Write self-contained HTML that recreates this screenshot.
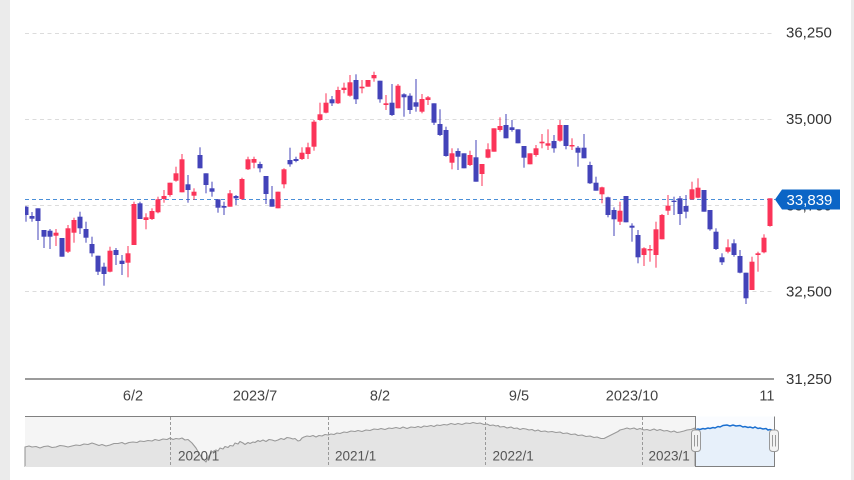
<!DOCTYPE html>
<html><head><meta charset="utf-8">
<style>
html,body{margin:0;padding:0;background:#fff;}
body{width:854px;height:480px;overflow:hidden;position:relative;font-family:"Liberation Sans",Arial,sans-serif;}
svg{position:absolute;left:0;top:0;}
</style></head>
<body>
<svg width="854" height="480" viewBox="0 0 854 480" xmlns="http://www.w3.org/2000/svg">
<defs>
<clipPath id="pc"><rect x="25" y="0" width="748" height="379"/></clipPath>
<clipPath id="xc"><rect x="25" y="380" width="749" height="30"/></clipPath>
</defs>
<rect x="0" y="0" width="10" height="480" fill="#ebebeb"/>
<rect x="851" y="0" width="3" height="480" fill="#ebebeb"/>
<g stroke="#dcdcdc" stroke-width="1" stroke-dasharray="4,3.5">
<line x1="25" y1="33.5" x2="772" y2="33.5"/>
<line x1="25" y1="119.5" x2="772" y2="119.5"/>
<line x1="25" y1="205.5" x2="772" y2="205.5"/>
<line x1="25" y1="291.5" x2="772" y2="291.5"/>
</g>
<line x1="25" y1="379" x2="774" y2="379" stroke="#7a7a7a" stroke-width="1.5"/>
<line x1="25" y1="199.5" x2="775" y2="199.5" stroke="#4a8fd8" stroke-width="1" stroke-dasharray="4,3"/>
<g clip-path="url(#pc)">
<g fill="#4343b9">
<rect x="25.5" y="206" width="1" height="15.7"/><rect x="23.5" y="206.7" width="5" height="8.3"/>
<rect x="31.5" y="212" width="1" height="9.7"/><rect x="29.5" y="216" width="5" height="2.7"/>
<rect x="37.5" y="208.3" width="1" height="31.7"/><rect x="35.5" y="208.3" width="5" height="12.7"/>
<rect x="43.5" y="230" width="1" height="18"/><rect x="41.5" y="230" width="5" height="6.7"/>
<rect x="49.5" y="229" width="1" height="20"/><rect x="47.5" y="230.7" width="5" height="6"/>
<rect x="61.5" y="238" width="1" height="18.7"/><rect x="59.5" y="238" width="5" height="18.7"/>
<rect x="79.5" y="211.7" width="1" height="22.3"/><rect x="77.5" y="216.7" width="5" height="11.6"/>
<rect x="85.5" y="221.7" width="1" height="21"/><rect x="83.5" y="229" width="5" height="8.7"/>
<rect x="91.5" y="236.7" width="1" height="20"/><rect x="89.5" y="244" width="5" height="9.3"/>
<rect x="97.5" y="255.7" width="1" height="19.3"/><rect x="95.5" y="255.7" width="5" height="16"/>
<rect x="103.5" y="262.7" width="1" height="23"/><rect x="101.5" y="266.7" width="5" height="7.3"/>
<rect x="115.5" y="248" width="1" height="17"/><rect x="113.5" y="250" width="5" height="5"/>
<rect x="121.5" y="255" width="1" height="20"/><rect x="119.5" y="260.7" width="5" height="3.3"/>
<rect x="139.5" y="201.7" width="1" height="17.3"/><rect x="137.5" y="203.3" width="5" height="15.7"/>
<rect x="187.5" y="175" width="1" height="27.7"/><rect x="185.5" y="184.3" width="5" height="5.7"/>
<rect x="199.5" y="147.3" width="1" height="21"/><rect x="197.5" y="155" width="5" height="13.3"/>
<rect x="205.5" y="173.3" width="1" height="20"/><rect x="203.5" y="173.3" width="5" height="11.7"/>
<rect x="211.5" y="181.7" width="1" height="15"/><rect x="209.5" y="188.3" width="5" height="3.4"/>
<rect x="217.5" y="199.3" width="1" height="13.4"/><rect x="215.5" y="199.3" width="5" height="8.4"/>
<rect x="223.5" y="201.7" width="1" height="13.3"/><rect x="221.5" y="206" width="5" height="1.7"/>
<rect x="235.5" y="195" width="1" height="10"/><rect x="233.5" y="196" width="5" height="2.3"/>
<rect x="259.5" y="161.7" width="1" height="10.6"/><rect x="257.5" y="164" width="5" height="4.3"/>
<rect x="265.5" y="176" width="1" height="28"/><rect x="263.5" y="176" width="5" height="18"/>
<rect x="271.5" y="186" width="1" height="20.7"/><rect x="269.5" y="199.3" width="5" height="7.4"/>
<rect x="289.5" y="147.7" width="1" height="19"/><rect x="287.5" y="160" width="5" height="4.3"/>
<rect x="295.5" y="156.7" width="1" height="5.6"/><rect x="293.5" y="159" width="5" height="2"/>
<rect x="331.5" y="96" width="1" height="10"/><rect x="329.5" y="99.3" width="5" height="4"/>
<rect x="355.5" y="74.3" width="1" height="29.7"/><rect x="353.5" y="80" width="5" height="19.3"/>
<rect x="379.5" y="80.7" width="1" height="22"/><rect x="377.5" y="80.7" width="5" height="18.6"/>
<rect x="391.5" y="84" width="1" height="32"/><rect x="389.5" y="102.7" width="5" height="12.3"/>
<rect x="403.5" y="93.3" width="1" height="23.4"/><rect x="401.5" y="94.3" width="5" height="3"/>
<rect x="409.5" y="93.3" width="1" height="20.7"/><rect x="407.5" y="95.7" width="5" height="14.3"/>
<rect x="415.5" y="79" width="1" height="32.7"/><rect x="413.5" y="102.3" width="5" height="4.4"/>
<rect x="433.5" y="103.3" width="1" height="21.7"/><rect x="431.5" y="103.3" width="5" height="19.4"/>
<rect x="439.5" y="109.3" width="1" height="26.7"/><rect x="437.5" y="124" width="5" height="11"/>
<rect x="445.5" y="126.7" width="1" height="30"/><rect x="443.5" y="130" width="5" height="26"/>
<rect x="457.5" y="148.3" width="1" height="21.7"/><rect x="455.5" y="151" width="5" height="5.7"/>
<rect x="463.5" y="153.3" width="1" height="15"/><rect x="461.5" y="153.3" width="5" height="15"/>
<rect x="475.5" y="140" width="1" height="41.7"/><rect x="473.5" y="157.3" width="5" height="24.4"/>
<rect x="505.5" y="114" width="1" height="24.3"/><rect x="503.5" y="125" width="5" height="13.3"/>
<rect x="511.5" y="120" width="1" height="11.7"/><rect x="509.5" y="127.3" width="5" height="2.7"/>
<rect x="517.5" y="129.3" width="1" height="14"/><rect x="515.5" y="129.3" width="5" height="14"/>
<rect x="523.5" y="146" width="1" height="21.7"/><rect x="521.5" y="146" width="5" height="11.7"/>
<rect x="553.5" y="135" width="1" height="17.7"/><rect x="551.5" y="141" width="5" height="7.3"/>
<rect x="565.5" y="125" width="1" height="24.3"/><rect x="563.5" y="125" width="5" height="21"/>
<rect x="577.5" y="146" width="1" height="20.7"/><rect x="575.5" y="147.7" width="5" height="5"/>
<rect x="583.5" y="134" width="1" height="24.3"/><rect x="581.5" y="147.7" width="5" height="10.6"/>
<rect x="589.5" y="161.7" width="1" height="22.3"/><rect x="587.5" y="165" width="5" height="18.3"/>
<rect x="595.5" y="176.7" width="1" height="14"/><rect x="593.5" y="182.7" width="5" height="8"/>
<rect x="607.5" y="196.7" width="1" height="20.6"/><rect x="605.5" y="197.3" width="5" height="17.7"/>
<rect x="613.5" y="207.3" width="1" height="28.7"/><rect x="611.5" y="210" width="5" height="9.3"/>
<rect x="625.5" y="196" width="1" height="26.3"/><rect x="623.5" y="196" width="5" height="26.3"/>
<rect x="631.5" y="223.3" width="1" height="18.4"/><rect x="629.5" y="225.7" width="5" height="2"/>
<rect x="637.5" y="230" width="1" height="33.3"/><rect x="635.5" y="235" width="5" height="22.3"/>
<rect x="673.5" y="196.7" width="1" height="18.3"/><rect x="671.5" y="200.7" width="5" height="1.3"/>
<rect x="679.5" y="196" width="1" height="29"/><rect x="677.5" y="198.3" width="5" height="15.7"/>
<rect x="685.5" y="195" width="1" height="23.3"/><rect x="683.5" y="206" width="5" height="5.7"/>
<rect x="703.5" y="190" width="1" height="21.7"/><rect x="701.5" y="190" width="5" height="21.7"/>
<rect x="709.5" y="210" width="1" height="20.7"/><rect x="707.5" y="210" width="5" height="19.3"/>
<rect x="715.5" y="228.3" width="1" height="21.7"/><rect x="713.5" y="231.7" width="5" height="17.3"/>
<rect x="721.5" y="253.3" width="1" height="11.7"/><rect x="719.5" y="257.3" width="5" height="5"/>
<rect x="733.5" y="239.3" width="1" height="17.4"/><rect x="731.5" y="243.3" width="5" height="11.7"/>
<rect x="739.5" y="250" width="1" height="23.3"/><rect x="737.5" y="256" width="5" height="16.7"/>
<rect x="745.5" y="272.7" width="1" height="31.3"/><rect x="743.5" y="272.7" width="5" height="25.6"/>
</g>
<g fill="#fb3459">
<rect x="55.5" y="229" width="1" height="17"/><rect x="53.5" y="232.7" width="5" height="3"/>
<rect x="67.5" y="225" width="1" height="28"/><rect x="65.5" y="228.3" width="5" height="23.4"/>
<rect x="73.5" y="217.7" width="1" height="25"/><rect x="71.5" y="220" width="5" height="12.7"/>
<rect x="109.5" y="246.7" width="1" height="25.6"/><rect x="107.5" y="250.7" width="5" height="21"/>
<rect x="127.5" y="246" width="1" height="31.3"/><rect x="125.5" y="253.3" width="5" height="9.4"/>
<rect x="133.5" y="201.7" width="1" height="43.3"/><rect x="131.5" y="204" width="5" height="41"/>
<rect x="145.5" y="213.3" width="1" height="16"/><rect x="143.5" y="217.3" width="5" height="2.7"/>
<rect x="151.5" y="208.3" width="1" height="11.7"/><rect x="149.5" y="211" width="5" height="8"/>
<rect x="157.5" y="196.7" width="1" height="16.6"/><rect x="155.5" y="199.3" width="5" height="13"/>
<rect x="163.5" y="190" width="1" height="12.7"/><rect x="161.5" y="196" width="5" height="3"/>
<rect x="169.5" y="182.7" width="1" height="14"/><rect x="167.5" y="182.7" width="5" height="12.3"/>
<rect x="175.5" y="166.7" width="1" height="15"/><rect x="173.5" y="173.3" width="5" height="7.4"/>
<rect x="181.5" y="154" width="1" height="38.3"/><rect x="179.5" y="159.3" width="5" height="33"/>
<rect x="193.5" y="188.3" width="1" height="11.7"/><rect x="191.5" y="191.7" width="5" height="4"/>
<rect x="229.5" y="190" width="1" height="16.7"/><rect x="227.5" y="193.3" width="5" height="13.4"/>
<rect x="241.5" y="177.7" width="1" height="22.3"/><rect x="239.5" y="179" width="5" height="20"/>
<rect x="247.5" y="156.7" width="1" height="13.3"/><rect x="245.5" y="159.3" width="5" height="10"/>
<rect x="253.5" y="156.7" width="1" height="11.6"/><rect x="251.5" y="159" width="5" height="3.7"/>
<rect x="277.5" y="191.7" width="1" height="16.6"/><rect x="275.5" y="191.7" width="5" height="16.6"/>
<rect x="283.5" y="168.3" width="1" height="20"/><rect x="281.5" y="169.3" width="5" height="15"/>
<rect x="301.5" y="147.3" width="1" height="12.7"/><rect x="299.5" y="152.7" width="5" height="6.3"/>
<rect x="307.5" y="142.7" width="1" height="16.3"/><rect x="305.5" y="147.3" width="5" height="6.7"/>
<rect x="313.5" y="120" width="1" height="30.7"/><rect x="311.5" y="121.7" width="5" height="25"/>
<rect x="319.5" y="102.7" width="1" height="18"/><rect x="317.5" y="114.3" width="5" height="5.7"/>
<rect x="325.5" y="93.3" width="1" height="20"/><rect x="323.5" y="102.7" width="5" height="10"/>
<rect x="337.5" y="86.7" width="1" height="17.3"/><rect x="335.5" y="90" width="5" height="13.3"/>
<rect x="343.5" y="82.7" width="1" height="10.6"/><rect x="341.5" y="87.7" width="5" height="2.3"/>
<rect x="349.5" y="75" width="1" height="21.7"/><rect x="347.5" y="82.3" width="5" height="13.4"/>
<rect x="361.5" y="80" width="1" height="13.3"/><rect x="359.5" y="86.7" width="5" height="1.6"/>
<rect x="367.5" y="80" width="1" height="6.7"/><rect x="365.5" y="80" width="5" height="6.7"/>
<rect x="373.5" y="71.7" width="1" height="10"/><rect x="371.5" y="75" width="5" height="3.3"/>
<rect x="385.5" y="95" width="1" height="15"/><rect x="383.5" y="103.3" width="5" height="1.7"/>
<rect x="397.5" y="84" width="1" height="24.3"/><rect x="395.5" y="85.7" width="5" height="22.6"/>
<rect x="421.5" y="94" width="1" height="19.3"/><rect x="419.5" y="99" width="5" height="12.7"/>
<rect x="427.5" y="96" width="1" height="9"/><rect x="425.5" y="97.3" width="5" height="2.7"/>
<rect x="451.5" y="148.3" width="1" height="21"/><rect x="449.5" y="153.3" width="5" height="9.4"/>
<rect x="469.5" y="150.7" width="1" height="15.3"/><rect x="467.5" y="155" width="5" height="10"/>
<rect x="481.5" y="164" width="1" height="22"/><rect x="479.5" y="164" width="5" height="10"/>
<rect x="487.5" y="143.3" width="1" height="15"/><rect x="485.5" y="149.3" width="5" height="8.4"/>
<rect x="493.5" y="128.3" width="1" height="23.4"/><rect x="491.5" y="128.3" width="5" height="23.4"/>
<rect x="499.5" y="117.3" width="1" height="14.4"/><rect x="497.5" y="126" width="5" height="4"/>
<rect x="529.5" y="153.3" width="1" height="11"/><rect x="527.5" y="153.3" width="5" height="11"/>
<rect x="535.5" y="145" width="1" height="11.7"/><rect x="533.5" y="148.3" width="5" height="6.7"/>
<rect x="541.5" y="134" width="1" height="14.3"/><rect x="539.5" y="141.7" width="5" height="1.6"/>
<rect x="547.5" y="129.3" width="1" height="20.7"/><rect x="545.5" y="143.3" width="5" height="2.4"/>
<rect x="559.5" y="120" width="1" height="21.7"/><rect x="557.5" y="125" width="5" height="15.7"/>
<rect x="571.5" y="138.3" width="1" height="11.7"/><rect x="569.5" y="145" width="5" height="1.5"/>
<rect x="601.5" y="186.7" width="1" height="16.6"/><rect x="599.5" y="187.3" width="5" height="7"/>
<rect x="619.5" y="201.7" width="1" height="23.3"/><rect x="617.5" y="210.7" width="5" height="11"/>
<rect x="643.5" y="247.3" width="1" height="18.7"/><rect x="641.5" y="248.3" width="5" height="6.7"/>
<rect x="649.5" y="245" width="1" height="16.7"/><rect x="647.5" y="249" width="5" height="1.5"/>
<rect x="655.5" y="221.7" width="1" height="46"/><rect x="653.5" y="229.3" width="5" height="25.7"/>
<rect x="661.5" y="214" width="1" height="25.3"/><rect x="659.5" y="215" width="5" height="24.3"/>
<rect x="667.5" y="195" width="1" height="20"/><rect x="665.5" y="205.7" width="5" height="5"/>
<rect x="691.5" y="181.7" width="1" height="18.3"/><rect x="689.5" y="189.3" width="5" height="10"/>
<rect x="697.5" y="178.3" width="1" height="20"/><rect x="695.5" y="187.7" width="5" height="10"/>
<rect x="727.5" y="239.3" width="1" height="14"/><rect x="725.5" y="247.3" width="5" height="4.4"/>
<rect x="751.5" y="256.7" width="1" height="33.3"/><rect x="749.5" y="261.7" width="5" height="28.3"/>
<rect x="757.5" y="251.7" width="1" height="20"/><rect x="755.5" y="253.3" width="5" height="1.7"/>
<rect x="763.5" y="234.3" width="1" height="19"/><rect x="761.5" y="237.7" width="5" height="14.6"/>
<rect x="769.5" y="198.3" width="1" height="28.4"/><rect x="767.5" y="198.3" width="5" height="27.7"/>
</g>
</g>
<g font-family="'Liberation Sans',Arial,sans-serif" font-size="15" fill="#333">
<text x="786" y="37.5">36,250</text>
<text x="786" y="124">35,000</text>
<text x="786" y="210.5">33,750</text>
<text x="786" y="296.7">32,500</text>
<text x="786" y="384">31,250</text>
</g>
<path d="M775,199.5 L782,189.5 L840,189.5 L840,209.5 L782,209.5 Z" fill="#0b65c6"/>
<text x="786.5" y="205" font-family="'Liberation Sans',Arial,sans-serif" font-size="15" fill="#fff">33,839</text>
<g font-family="'Liberation Sans',Arial,sans-serif" font-size="14.5" fill="#444" text-anchor="middle" clip-path="url(#xc)">
<text x="133" y="400.5">6/2</text>
<text x="255" y="400.5">2023/7</text>
<text x="380" y="400.5">8/2</text>
<text x="519" y="400.5">9/5</text>
<text x="632" y="400.5">2023/10</text>
<text x="773" y="400.5">11/1</text>
</g>
<rect x="25" y="416.5" width="670" height="50" fill="#f5f5f5"/>
<path d="M25,447 L29,446 L32,447 L36,446.5 L40,448 L44,446.5 L48,446 L52,447.5 L56,447 L60,445.5 L64,446 L68,447 L72,446 L76,445 L80,445.5 L84,444 L88,444.5 L92,443 L95,444 L99,445.5 L102,444.5 L106,446 L110,445 L114,443.5 L118,443.5 L122,442.5 L125,444 L129,442.5 L133,442 L137,442.5 L140,441 L144,441.5 L148,440.5 L152,441 L155,439.5 L159,440.5 L163,439 L167,439.5 L170,438 L173,439.5 L176,438.5 L179,439 L182,438 L185,440 L188,439.5 L192,443 L196,448 L200,455 L203,459 L206,462 L209,456 L212,452 L216,450 L218,451 L220,448 L223,449 L225,446.5 L228,447.5 L230,445.5 L233,446 L235,443 L238,444 L240,441.5 L243,443 L245,444.5 L248,442.5 L250,443.5 L253,442 L255,442.5 L258,440.5 L260,441.5 L263,440 L266,441.5 L269,439.5 L272,440 L275,441 L278,440 L281,438.5 L284,439.5 L287,437.5 L290,438 L293,439 L295,438.5 L298,441 L300,440.5 L302,438 L304,437 L307,436 L310,436.5 L313,435.5 L316,437 L319,435.5 L322,436 L325,434.5 L328,435 L331,434 L334,434.5 L337,433 L340,433.5 L344,432 L347,432.5 L351,431 L355,431.5 L358,430.5 L362,431.5 L366,430 L370,430.5 L374,429 L378,429.5 L381,428.5 L385,429.5 L389,428 L392,428.5 L396,427.5 L400,428.5 L403,427 L407,428.5 L411,427 L415,427.5 L418,426.5 L421,427.5 L424,426 L427,426.5 L431,425.5 L434,426.5 L437,425 L440,425.5 L444,424.5 L447,425 L451,423.5 L455,424.5 L458,423.5 L462,424.5 L466,423 L470,423.5 L473,422.5 L477,423.5 L480,423 L484,424.5 L487,424 L490,425.5 L493,425 L496,426 L498,425.5 L500,427 L504,426.5 L507,428 L511,427 L514,428.5 L517,428 L520,429.5 L523,428.5 L526,429 L529,430 L532,429.5 L535,431 L538,430 L541,431.5 L545,431 L548,432 L552,431.5 L556,432.5 L560,432 L563,433.5 L567,433 L571,434.5 L575,434 L578,435.5 L582,435 L586,436.5 L590,436 L594,437.5 L597,437 L601,438.5 L604,438.5 L607,437 L609,436 L612,434.5 L615,433 L618,431.5 L620,430 L624,429 L627,428 L630,429 L634,428 L637,429.5 L640,428.5 L644,430 L647,429.5 L650,430.5 L654,429 L657,430.5 L660,429.5 L664,431 L667,430.5 L671,432 L674,431 L677,432.5 L680,432 L684,431 L687,430 L691,429.5 L695,428 L695,466.5 L25,466.5 Z" fill="#e4e4e4" stroke="#999" stroke-width="1.1" stroke-linejoin="round"/>
<line x1="25" y1="466.5" x2="695" y2="466.5" stroke="#e4e4e4" stroke-width="1"/>
<g stroke="#999" stroke-width="1" stroke-dasharray="3,2">
<line x1="170.5" y1="417" x2="170.5" y2="466"/>
<line x1="328.5" y1="417" x2="328.5" y2="466"/>
<line x1="485.5" y1="417" x2="485.5" y2="466"/>
<line x1="642.5" y1="417" x2="642.5" y2="466"/>
</g>
<rect x="695" y="416.5" width="79.5" height="50" fill="#fafcff"/>
<path d="M695,430 L698,429 L700,429.5 L703,428.5 L705,429 L708,428 L710,428.5 L713,427.5 L715,428 L718,426.5 L720,427 L723,425.5 L727,425 L730,426 L733,425 L736,426 L740,425.5 L743,427 L745,426.5 L748,427.5 L750,427 L753,428 L755,427 L758,428.5 L760,428 L763,429 L766,428.5 L768,430 L770,429.5 L774.5,431 L774.5,466.5 L695,466.5 Z" fill="#e7f0fa" stroke="none"/>
<path d="M695,430 L698,429 L700,429.5 L703,428.5 L705,429 L708,428 L710,428.5 L713,427.5 L715,428 L718,426.5 L720,427 L723,425.5 L727,425 L730,426 L733,425 L736,426 L740,425.5 L743,427 L745,426.5 L748,427.5 L750,427 L753,428 L755,427 L758,428.5 L760,428 L763,429 L766,428.5 L768,430 L770,429.5 L774.5,431" fill="none" stroke="#1a6fd0" stroke-width="1.5"/>
<path d="M25,416.5 L695.5,416.5 L695.5,466.5 L774.5,466.5 L774.5,416.5" fill="none" stroke="#808080" stroke-width="1"/>
<g font-family="'Liberation Sans',Arial,sans-serif" font-size="13.5" fill="#555">
<text x="178" y="460.7">2020/1</text>
<text x="335" y="460.7">2021/1</text>
<text x="492.5" y="460.7">2022/1</text>
<text x="648.5" y="460.7">2023/1</text>
</g>
<g fill="#f2f2f2" stroke="#999" stroke-width="1">
<rect x="691.5" y="430" width="9" height="21.5" rx="3"/>
<rect x="769.5" y="430" width="9" height="21.5" rx="3"/>
</g>
<g stroke="#999" stroke-width="1">
<line x1="694.5" y1="435" x2="694.5" y2="446.5"/><line x1="697.5" y1="435" x2="697.5" y2="446.5"/>
<line x1="772.5" y1="435" x2="772.5" y2="446.5"/><line x1="775.5" y1="435" x2="775.5" y2="446.5"/>
</g>
</svg>
</body></html>
